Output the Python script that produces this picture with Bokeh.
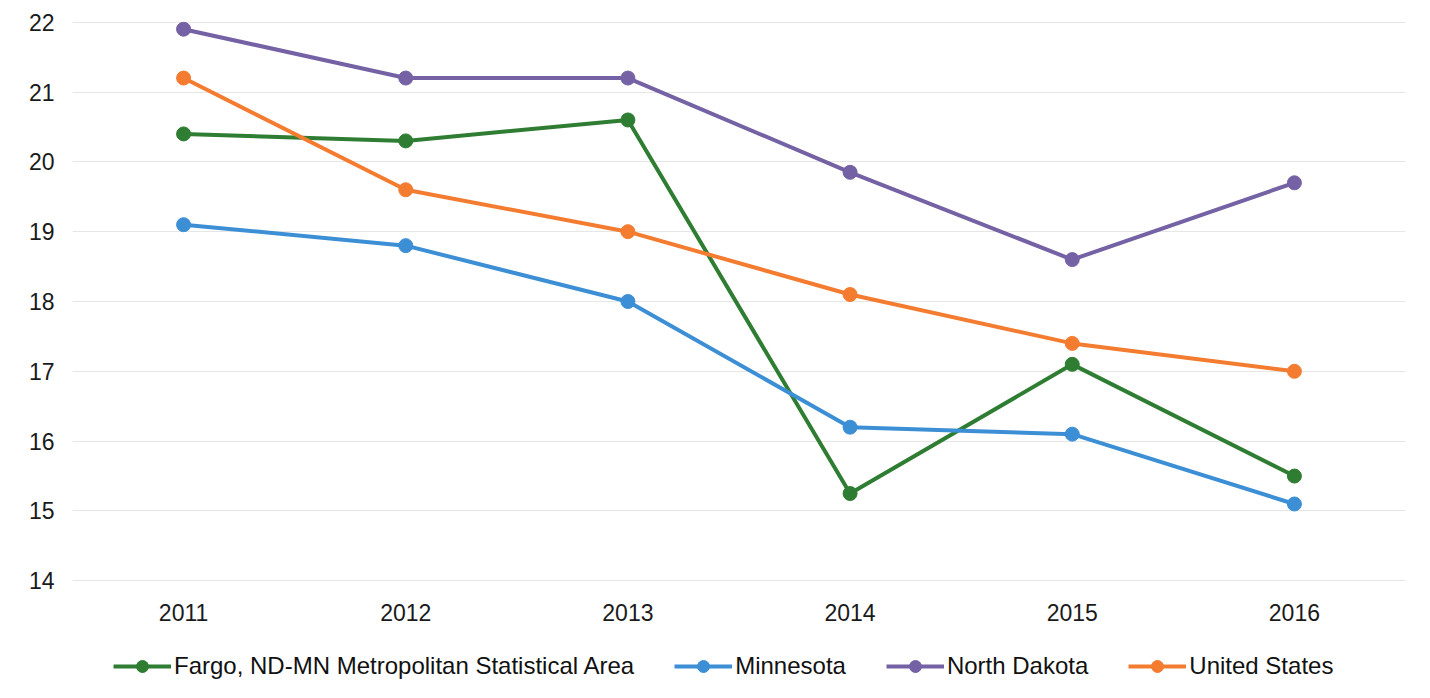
from bokeh.plotting import figure
from bokeh.layouts import column
from bokeh.models import FactorRange, Range1d, Legend, LegendItem
from bokeh.embed import file_html
from bokeh.resources import INLINE

years = ["2011", "2012", "2013", "2014", "2015", "2016"]
fargo = [20.4, 20.3, 20.6, 15.25, 17.1, 15.5]
minnesota = [19.1, 18.8, 18.0, 16.2, 16.1, 15.1]
north_dakota = [21.9, 21.2, 21.2, 19.85, 18.6, 19.7]
united_states = [21.2, 19.6, 19.0, 18.1, 17.4, 17.0]

series = [
    ("Fargo, ND-MN Metropolitan Statistical Area", fargo, "#2f7d32"),
    ("Minnesota", minnesota, "#3d8fd5"),
    ("North Dakota", north_dakota, "#7462a4"),
    ("United States", united_states, "#f47c30"),
]

FONT = "Liberation Sans"

p = figure(
    frame_width=1333, frame_height=560,
    x_range=FactorRange(*years), y_range=Range1d(13.99, 22.01),
    output_backend="svg", toolbar_location=None,
    min_border_left=72, min_border_top=21, min_border_right=9, min_border_bottom=50,
)
p.outline_line_color = None
p.background_fill_color = "white"
p.border_fill_color = "white"

p.xgrid.grid_line_color = None
p.ygrid.grid_line_color = "#e6e6e6"
p.ygrid.grid_line_width = 1
p.yaxis.ticker = list(range(14, 23))

for ax in (p.xaxis, p.yaxis):
    ax.axis_line_color = None
    ax.major_tick_line_color = None
    ax.minor_tick_line_color = None
    ax.major_label_text_font = FONT
    ax.major_label_text_font_size = "23px"
    ax.major_label_text_color = "#1a1a1a"
p.yaxis.major_label_standoff = 12
p.xaxis.major_label_standoff = 16

for name, vals, color in series:
    p.line(years, vals, line_color=color, line_width=4)
    p.scatter(years, vals, size=14, fill_color=color, line_color=color)

# Legend strip (separate figure so the legend is not clipped)
lg = figure(
    width=1414, height=58,
    x_range=FactorRange(*years), y_range=Range1d(100, 101),
    x_axis_type=None, y_axis_type=None,
    output_backend="svg", toolbar_location=None,
    min_border=0,
)
lg.outline_line_color = None
lg.grid.grid_line_color = None
lg.background_fill_color = "white"
lg.border_fill_color = "white"

items = []
for name, vals, color in series:
    r1 = lg.line(years, vals, line_color=color, line_width=4)
    r2 = lg.scatter(years, vals, size=14, fill_color=color, line_color=color)
    items.append(LegendItem(label=name, renderers=[r1, r2]))

legend = Legend(
    items=items, orientation="horizontal", location=(41, 8),
    glyph_width=58, glyph_height=30, label_standoff=3, spacing=40,
    label_text_font=FONT, label_text_font_size="24px", label_text_color="#111111",
    border_line_color=None, background_fill_alpha=0, padding=4, margin=0,
)
lg.add_layout(legend, "center")

layout = column(p, lg, spacing=0)
open("out.html", "w").write(file_html(layout, INLINE))
